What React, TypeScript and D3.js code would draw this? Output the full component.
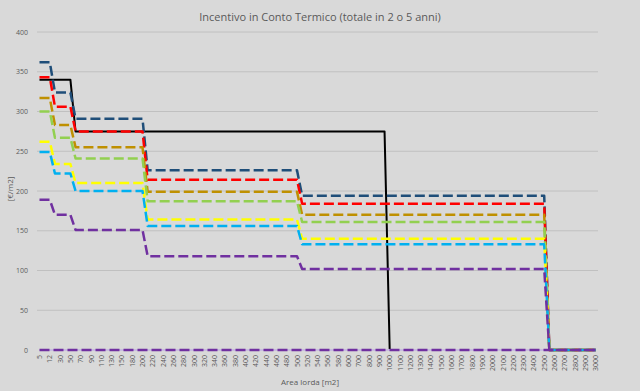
import React, { useEffect, useRef } from 'react';
import * as d3 from 'd3';

// categorie (solo quelle pari hanno etichetta visibile)
const categories: number[] = [
	5, 10, 12, 20, 30, 40, 50, 60, 70, 80, 90, 100, 110, 120, 130, 140, 150, 170, 180, 190,
	200, 210, 220, 230, 240, 250, 260, 270, 280, 290, 300, 310, 320, 330, 340, 350, 360, 370, 380, 390,
	400, 410, 420, 430, 440, 450, 460, 470, 480, 490, 500, 510, 520, 530, 540, 550, 560, 570, 580, 590,
	600, 650, 700, 750, 800, 850, 900, 950, 1000, 1050, 1100, 1150, 1200, 1250, 1300, 1350, 1400, 1450, 1500, 1550,
	1600, 1650, 1700, 1750, 1800, 1850, 1900, 1950, 2000, 2050, 2100, 2150, 2200, 2250, 2300, 2350, 2400, 2450, 2500, 2550,
	2600, 2650, 2700, 2750, 2800, 2850, 2900, 2950, 3000,
];

const yTicks = [0, 50, 100, 150, 200, 250, 300, 350, 400];

// serie: [area, €/m2]
const serieNero: [number, number][] = [[5, 340], [50, 340], [60, 275], [950, 275], [1000, 0], [3000, 0]];
const serieLavanda: [number, number][] = [[5, 0], [3000, 0]];
const serieBlu: [number, number][] = [[5, 362], [12, 362], [20, 324], [50, 324], [60, 291], [200, 291], [210, 226], [500, 226], [510, 194], [2500, 194], [2550, 0], [3000, 0]];
const serieRosso: [number, number][] = [[5, 343], [12, 343], [20, 306], [50, 306], [60, 275], [200, 275], [210, 214], [500, 214], [510, 184], [2500, 184], [2550, 0], [3000, 0]];
const serieOro: [number, number][] = [[5, 317], [12, 317], [20, 283], [50, 283], [60, 255], [200, 255], [210, 199], [500, 199], [510, 170], [2500, 170], [2550, 0], [3000, 0]];
const serieVerde: [number, number][] = [[5, 300], [12, 300], [20, 267], [50, 267], [60, 241], [200, 241], [210, 187], [500, 187], [510, 161], [2500, 161], [2550, 0], [3000, 0]];
const serieGiallo: [number, number][] = [[5, 262], [12, 262], [20, 234], [50, 234], [60, 210], [200, 210], [210, 164], [500, 164], [510, 140], [2500, 140], [2550, 0], [3000, 0]];
const serieAzzurro: [number, number][] = [[5, 249], [12, 249], [20, 222], [50, 222], [60, 200], [200, 200], [210, 156], [500, 156], [510, 133], [2500, 133], [2550, 0], [3000, 0]];
const serieViola: [number, number][] = [[5, 189], [12, 189], [20, 170], [50, 170], [60, 151], [200, 151], [210, 118], [500, 118], [510, 102], [2500, 102], [2550, 0], [3000, 0]];
const serieZero: [number, number][] = [[5, 0], [3000, 0]];

const series = [
	{ data: serieNero, color: '#000000', dash: null },
	{ data: serieLavanda, color: '#c9bce0', dash: null },
	{ data: serieBlu, color: '#1f4e79', dash: '10,4' },
	{ data: serieRosso, color: '#ff0000', dash: '10,4' },
	{ data: serieOro, color: '#bf9000', dash: '10,4' },
	{ data: serieVerde, color: '#92d050', dash: '10,4' },
	{ data: serieGiallo, color: '#ffff00', dash: '10,4' },
	{ data: serieAzzurro, color: '#00b0f0', dash: '10,4' },
	{ data: serieViola, color: '#7030a0', dash: '10,4' },
	{ data: serieZero, color: '#7030a0', dash: '10,4' },
];

const W = 640;
const H = 391;
const FONT = "'Open Sans', 'Noto Sans', sans-serif";

export default function App() {
	const svgRef = useRef<SVGSVGElement | null>(null);

	useEffect(() => {
		const svg = d3.select(svgRef.current);
		svg.selectAll('*').remove();

		const x = d3.scalePoint<number>().domain(categories).range([39.5, 595.7]);
		const y = d3.scaleLinear().domain([0, 400]).range([350, 32]);

		svg.append('rect').attr('width', W).attr('height', H).attr('fill', '#d9d9d9');

		// griglia
		svg.append('g').selectAll('line').data(yTicks.filter(d => d > 0)).join('line')
			.attr('x1', 37).attr('x2', 598)
			.attr('y1', d => y(d)).attr('y2', d => y(d))
			.attr('stroke', '#c0c0c0').attr('stroke-width', 1);

		svg.append('g').selectAll('text').data(yTicks).join('text')
			.attr('x', 28).attr('y', d => y(d) + 2.5)
			.attr('text-anchor', 'end')
			.style('font-family', FONT).style('font-size', '7px').attr('fill', '#595959')
			.text(d => d);

		svg.append('g').selectAll('text').data(categories.filter((_, i) => i % 2 === 0)).join('text')
			.attr('transform', d => `translate(${(x(d) as number) + 2.5}, 355) rotate(-90)`)
			.attr('text-anchor', 'end')
			.style('font-family', FONT).style('font-size', '7px').attr('fill', '#595959')
			.text(d => d);

		const line = d3.line<[number, number]>()
			.x(d => x(d[0]) as number)
			.y(d => y(d[1]));

		series.forEach(s => {
			svg.append('path')
				.attr('d', line(s.data))
				.attr('fill', 'none')
				.attr('stroke', s.color)
				.attr('stroke-width', s.dash ? 2.5 : 2)
				.attr('stroke-dasharray', s.dash)
				.attr('stroke-linejoin', 'round');
		});

		svg.append('text')
			.attr('x', 320).attr('y', 21)
			.attr('text-anchor', 'middle')
			.style('font-family', FONT).style('font-size', '11px').attr('fill', '#595959')
			.text('Incentivo in Conto Termico (totale in 2 o 5 anni)');

		svg.append('text')
			.attr('transform', 'translate(13, 189) rotate(-90)')
			.attr('text-anchor', 'middle')
			.style('font-family', FONT).style('font-size', '8px').attr('fill', '#595959')
			.text('[€/m2]');

		svg.append('text')
			.attr('x', 310).attr('y', 385)
			.attr('text-anchor', 'middle')
			.style('font-family', FONT).style('font-size', '8px').attr('fill', '#595959')
			.text('Area lorda [m2]');
	}, []);

	return (
		<svg ref={svgRef} width={W} height={H} style={{ position: 'absolute', left: 0, top: 0, display: 'block' }}></svg>
	);
}
